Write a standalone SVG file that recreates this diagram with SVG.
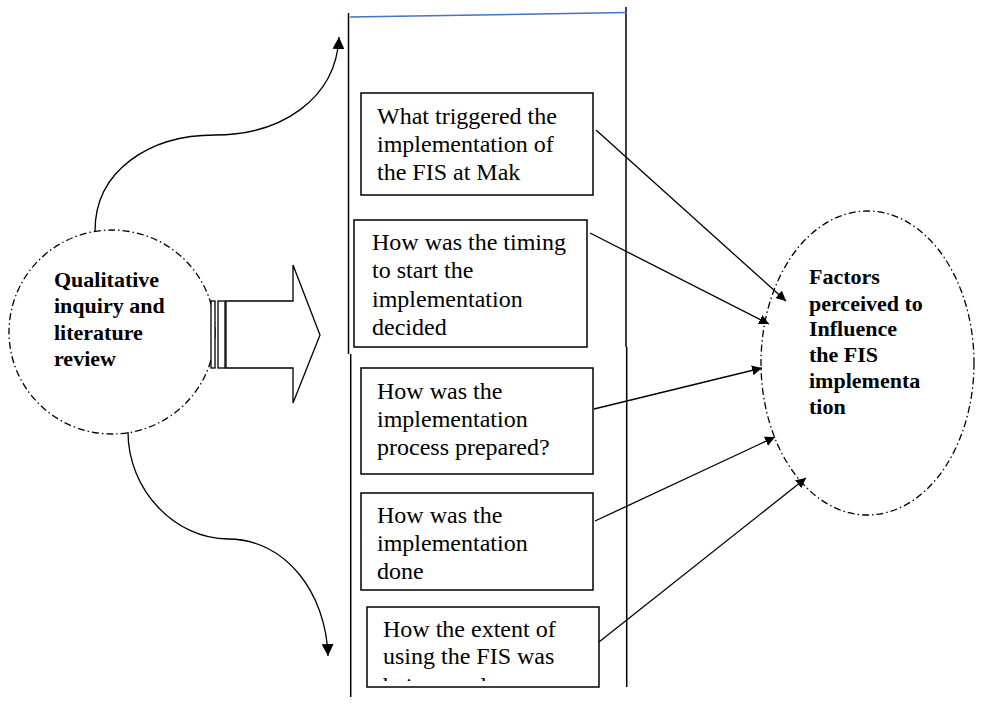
<svg xmlns="http://www.w3.org/2000/svg" width="981" height="715" viewBox="0 0 981 715">
<style>
.box{fill:#fff;stroke:#000;stroke-width:1.5}
.dd{fill:none;stroke:#000;stroke-width:1.3;stroke-dasharray:7 3 1.5 3}
.t{font-family:"Liberation Serif","Times New Roman",serif;font-size:24px;fill:#000}
.b{font-family:"Liberation Serif","Times New Roman",serif;font-size:22px;font-weight:bold;fill:#000}
.ln{fill:none;stroke:#000;stroke-width:1.5}
.con{fill:none;stroke:#000;stroke-width:1.3}
</style>
<defs>
<marker id="ah" viewBox="0 0 10 10" refX="10" refY="5" markerWidth="10" markerHeight="10" markerUnits="userSpaceOnUse" orient="auto">
<path d="M0,0 L10,5 L0,10 z" fill="#000"/>
</marker>
<marker id="ah2" viewBox="0 0 10 10" refX="10" refY="5" markerWidth="12" markerHeight="12" markerUnits="userSpaceOnUse" orient="auto">
<path d="M0,0 L10,5 L0,10 z" fill="#000"/>
</marker>
<clipPath id="c5"><rect x="367" y="607" width="232" height="74"/></clipPath>
</defs>
<rect width="981" height="715" fill="#fff"/>
<g id="column">
<path class="ln" d="M348.5,13 V354 M350.7,354 V697"/>
<path class="ln" d="M626,7 V347 M626.7,347 V687"/>
<line x1="350" y1="17" x2="627" y2="12.5" stroke="#4472c4" stroke-width="1.5"/>
</g>
<g id="qualitative">
<ellipse class="dd" cx="112" cy="332" rx="103" ry="102"/>
<text class="b" x="54" y="287">Qualitative</text>
<text class="b" x="54" y="313">inquiry and</text>
<text class="b" x="54" y="340">literature</text>
<text class="b" x="54" y="366">review</text>
</g>
<g id="blockarrow">
<rect x="211" y="301" width="4" height="67" fill="#fff" stroke="#000" stroke-width="1.3"/>
<rect x="218" y="301" width="7" height="67" fill="#fff" stroke="#000" stroke-width="1.3"/>
<path d="M226,301 H293 V265 L320,335 L293,403 V368 H226 z" fill="#fff" stroke="#000" stroke-width="1.3"/>
</g>
<g id="box1">
<rect class="box" x="361" y="93" width="232" height="102"/>
<text class="t" x="377" y="124">What triggered the</text>
<text class="t" x="377" y="152">implementation of</text>
<text class="t" x="377" y="180">the FIS at Mak</text>
</g>
<g id="box2">
<rect class="box" x="354" y="220" width="233" height="127"/>
<text class="t" x="372" y="250">How was the timing</text>
<text class="t" x="372" y="278">to start the</text>
<text class="t" x="372" y="306.5">implementation</text>
<text class="t" x="372" y="335">decided</text>
</g>
<g id="box3">
<rect class="box" x="361" y="368" width="232" height="106"/>
<text class="t" x="377" y="399">How was the</text>
<text class="t" x="377" y="427">implementation</text>
<text class="t" x="377" y="455">process prepared?</text>
</g>
<g id="box4">
<rect class="box" x="361" y="493" width="232" height="97"/>
<text class="t" x="377" y="523">How was the</text>
<text class="t" x="377" y="550.5">implementation</text>
<text class="t" x="377" y="579">done</text>
</g>
<g id="box5">
<rect class="box" x="367" y="607" width="232" height="80"/>
<g clip-path="url(#c5)">
<text class="t" x="383" y="637">How the extent of</text>
<text class="t" x="383" y="663.5">using the FIS was</text>
<text class="t" x="383" y="693.5">being used</text>
</g>
</g>
<g id="factors">
<ellipse class="dd" cx="867.5" cy="363" rx="106.5" ry="152"/>
<text class="b" x="809" y="284">Factors</text>
<text class="b" x="809" y="311">perceived to</text>
<text class="b" x="809" y="336">Influence</text>
<text class="b" x="809" y="362">the FIS</text>
<text class="b" x="809" y="388">implementa</text>
<text class="b" x="809" y="414">tion</text>
</g>
<g id="connectors">
<path class="con" d="M95,231 C95,170 150,135 215,135 C280,135 336,100 339,37" marker-end="url(#ah2)"/>
<path class="con" d="M128,432 C128,490 175,539 228,539 C285,539 326,592 328,656" marker-end="url(#ah2)"/>
<line class="con" x1="596" y1="130" x2="786" y2="301" marker-end="url(#ah)"/>
<line class="con" x1="590" y1="233" x2="769" y2="324" marker-end="url(#ah)"/>
<line class="con" x1="594" y1="409" x2="762" y2="368" marker-end="url(#ah)"/>
<line class="con" x1="595" y1="521" x2="775" y2="437" marker-end="url(#ah)"/>
<line class="con" x1="599" y1="642" x2="806" y2="478" marker-end="url(#ah)"/>
</g>
</svg>
